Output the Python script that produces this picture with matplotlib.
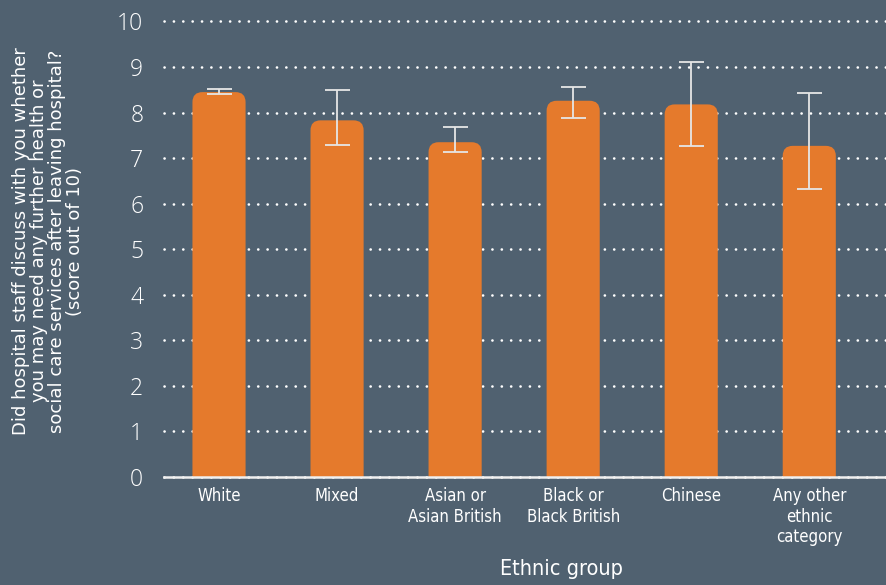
import numpy as np
import matplotlib
matplotlib.use("Agg")
import matplotlib.pyplot as plt
from matplotlib.patches import FancyBboxPatch

# data
groups = ["White", "Mixed", "Asian or\nAsian British", "Black or\nBlack British",
          "Chinese", "Any other\nethnic\ncategory"]
scores = [8.45, 7.83, 7.35, 8.26, 8.18, 7.27]
ci_low = [8.40, 7.29, 7.14, 7.88, 7.27, 6.33]
ci_high = [8.51, 8.49, 7.68, 8.57, 9.12, 8.42]

bg = "#506170"
orange = "#e57a2c"
err_col = "#e6e6e6"

fig = plt.figure(figsize=(8.86, 5.85), dpi=100, facecolor=bg)
ax = fig.add_axes([164 / 886, 1 - 477 / 585, 1 - 164 / 886, (477 - 21.5) / 585])
ax.set_facecolor(bg)

x = np.arange(len(groups))
bars = ax.bar(x, scores, width=0.45, color=orange, zorder=2)

# swap plain bars for rounded-top ones
x_px = 118.0
y_px = 45.5
for b in bars:
    bx, bw, bh = b.get_x(), b.get_width(), b.get_height()
    b.set_visible(False)
    p = FancyBboxPatch((bx, -0.5), bw, bh + 0.5,
                       boxstyle="round,pad=0,rounding_size=0.085",
                       mutation_aspect=x_px / y_px,
                       fc=orange, ec="none", zorder=2)
    ax.add_patch(p)

yerr = [np.array(scores) - np.array(ci_low), np.array(ci_high) - np.array(scores)]
ax.errorbar(x, scores, yerr=yerr, fmt="none", ecolor=err_col, elinewidth=1.3,
            capsize=9, capthick=1.3, zorder=3)

ax.set_ylim(0, 10)
ax.set_xlim(-0.466, 5.65)
ax.set_yticks(range(0, 11))
ax.yaxis.grid(True, color="white", linestyle=(0, (0.05, 3.5)), linewidth=1.9,
              dash_capstyle="round", zorder=1)
for gl in ax.yaxis.get_gridlines():
    gl.set_clip_on(False)
for s in ["top", "right", "left"]:
    ax.spines[s].set_visible(False)
ax.spines["bottom"].set_color("#f0f0f0")
ax.spines["bottom"].set_linewidth(1.8)
ax.spines["bottom"].set_zorder(4)

ax.set_xticks(x)
ax.set_xticklabels(groups, color="white", fontsize=12, family="DejaVu Sans",
                   fontstretch="condensed", linespacing=1.2)
ax.tick_params(axis="x", length=0, pad=7)
ax.tick_params(axis="y", length=0, pad=15, labelcolor="white", labelsize=16.5)
for t in ax.get_yticklabels():
    t.set_family(["Open Sans", "DejaVu Sans"])
    t.set_fontweight("light")

fig.text(561 / 886, 1 - 569 / 585, "Ethnic group", color="white", fontsize=15.5,
         family="DejaVu Sans", fontstretch="condensed", ha="center", va="center")
fig.text(48 / 886, 1 - 241 / 585,
         "Did hospital staff discuss with you whether\nyou may need any further health or\n"
         "social care services after leaving hospital?\n(score out of 10)",
         rotation=90, color="white", fontsize=13, ha="center", va="center",
         multialignment="center", linespacing=0.98, family="DejaVu Sans")

fig.savefig("out.png", dpi=100, facecolor=bg)
